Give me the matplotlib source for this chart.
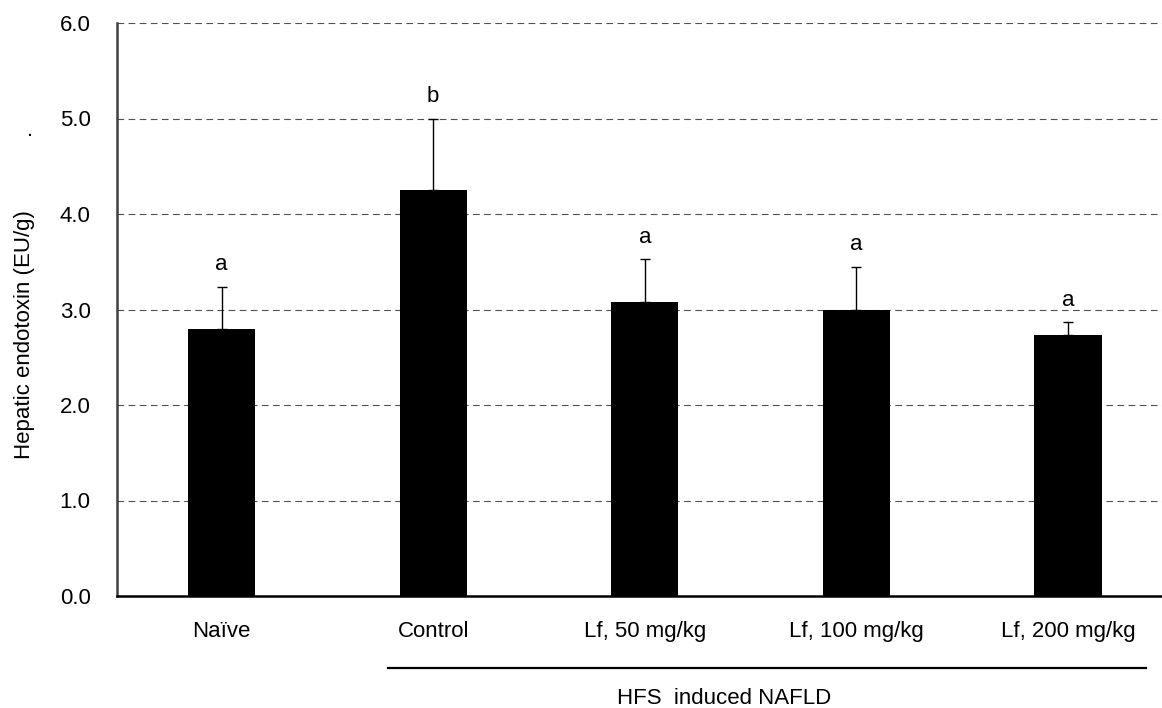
import numpy as np
import matplotlib
matplotlib.use("Agg")
import matplotlib.pyplot as plt
from matplotlib.lines import Line2D

plt.rcParams['font.family'] = ['Liberation Sans', 'DejaVu Sans']

groups = ["Naïve", "Control", "Lf, 50 mg/kg", "Lf, 100 mg/kg", "Lf, 200 mg/kg"]
means = [2.80, 4.25, 3.08, 3.00, 2.73]
sds = [0.44, 0.75, 0.45, 0.45, 0.14]
letters = ["a", "b", "a", "a", "a"]
yticks = [0.0, 1.0, 2.0, 3.0, 4.0, 5.0, 6.0]

fig = plt.figure(figsize=(11.62, 7.08), dpi=100)
ax = fig.add_axes([117 / 1162, 1 - 596 / 708, 1 - 117 / 1162, (596 - 23) / 708])

x = np.arange(len(groups))
ax.bar(x, means, width=0.317, color='black', zorder=3)
ax.errorbar(x, means, yerr=[np.zeros(len(sds)), sds], fmt='none',
            ecolor='black', elinewidth=1, capsize=3.5, capthick=1, zorder=4)

for xi, m, s, let in zip(x, means, sds, letters):
    ax.text(xi, m + s + 0.17, let, ha='center', va='baseline', fontsize=16)

ax.set_ylim(0, 6)
ax.set_xlim(-0.494, 4.444)
ax.set_yticks(yticks)
ax.set_yticklabels([f"{v:.1f}" for v in yticks])
ax.set_xticks(x)
ax.set_xticklabels(groups)
ax.tick_params(axis='y', length=0, pad=19, labelsize=16)
ax.tick_params(axis='x', length=0, pad=18, labelsize=16)

for v in yticks[1:]:
    ax.axhline(v, color='#505050', lw=0.8, ls=(0, (6, 4)), zorder=1)

for side in ['top', 'right']:
    ax.spines[side].set_visible(False)
ax.spines['left'].set_color('#404040')
ax.spines['left'].set_linewidth(1.8)
ax.spines['bottom'].set_color('black')
ax.spines['bottom'].set_linewidth(1.8)
ax.spines['bottom'].set_zorder(5)

# bracket under the HFS groups
trans = ax.get_xaxis_transform()
y_line = -(668 - 596) / (596 - 23)
ax.add_line(Line2D([1 - 0.214, 4 + 0.367], [y_line, y_line], transform=trans,
                   color='black', lw=1.6, clip_on=False))
ax.text(2.374, -(698 - 596) / (596 - 23), "HFS  induced NAFLD", transform=trans,
        ha='center', va='center', fontsize=16)

fig.text(25 / 1162, 1 - 459 / 708, "Hepatic endotoxin (EU/g)", rotation=90,
         ha='center', va='bottom', fontsize=16)
fig.text(30 / 1162, 1 - 131 / 708, ".", ha='center', va='center', fontsize=16)

fig.savefig("out.png", dpi=100)
